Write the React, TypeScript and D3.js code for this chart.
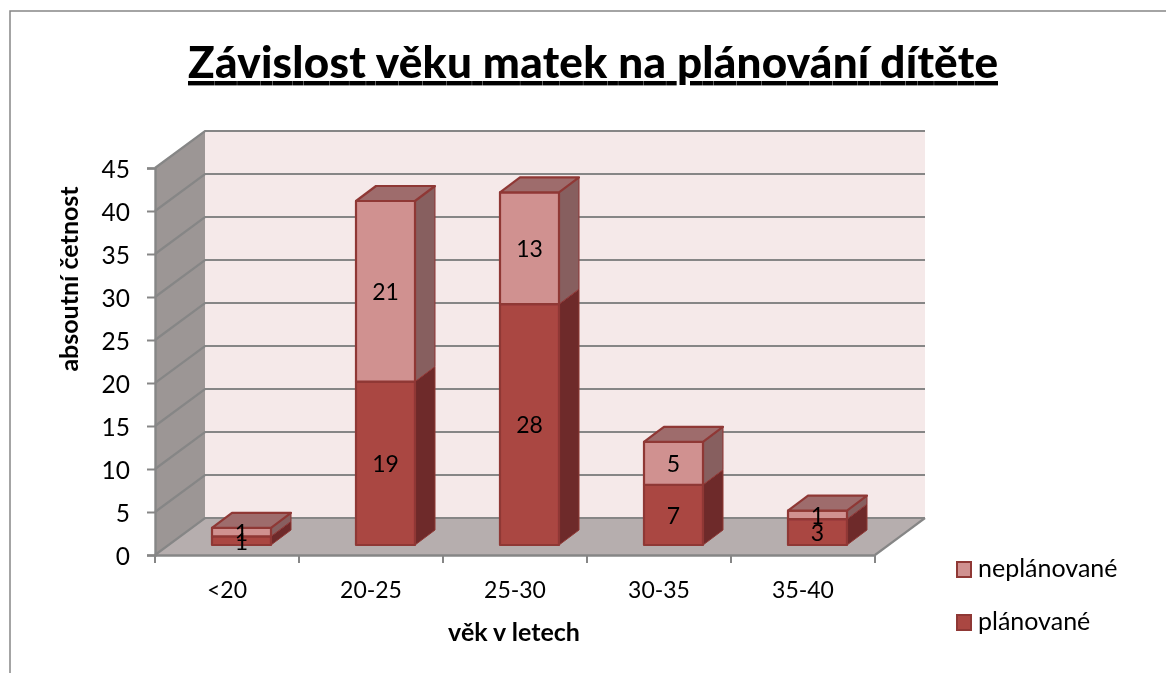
import React, { useRef, useEffect } from "react";
import * as d3 from "d3";

const categories = ["<20", "20-25", "25-30", "30-35", "35-40"];
const planned = [1, 19, 28, 7, 3];
const unplanned = [1, 21, 13, 5, 1];
const yTicks = [0, 5, 10, 15, 20, 25, 30, 35, 40, 45];
const seriesNames = ["plánované", "neplánované"];

const FONT = "Lato, 'Open Sans', sans-serif";

export default function App() {
  const ref = useRef<SVGSVGElement | null>(null);

  useEffect(() => {
    const svg = d3.select(ref.current);
    svg.selectAll("*").remove();

    const x = d3.scaleBand().domain(categories).range([155, 875]).paddingInner(0).paddingOuter(0);
    const y = d3.scaleLinear().domain([0, 45]).range([555, 168]);

    // hloubka grafu
    const wallDx = 50;
    const wallDy = -37;
    const barDx = 14.5;
    const barDy = -10;
    const depthX = 20;
    const depthY = -15;
    const barW = 59;

    const defs = svg.append("defs");
    defs.append("filter").attr("id", "soft").append("feGaussianBlur").attr("stdDeviation", 0.45);

    // okraj
    svg.append("rect").attr("x", 10).attr("y", 11).attr("width", 1300).attr("height", 800)
      .attr("fill", "#fff").attr("stroke", "#868686").attr("stroke-width", 1.5);

    const root = svg.append("g").attr("filter", "url(#soft)");

    const pts = (p: number[][]) => p.map((d) => d.join(",")).join(" ");
    const xl = x.range()[0];
    const xr = x.range()[1];
    const y0 = y(0);
    const yTop = y(45);

    // stěny
    root.append("polygon")
      .attr("points", pts([[xl + wallDx, yTop + wallDy], [xr + wallDx + 0, yTop + wallDy], [xr + wallDx, y0 + wallDy], [xl + wallDx, y0 + wallDy]]))
      .attr("fill", "#f5e9e9");
    root.append("polygon")
      .attr("points", pts([[xl, yTop], [xl + wallDx, yTop + wallDy], [xl + wallDx, y0 + wallDy], [xl, y0]]))
      .attr("fill", "#9c9695");
    root.append("polygon")
      .attr("points", pts([[xl, y0], [xl + wallDx, y0 + wallDy], [xr + wallDx, y0 + wallDy], [xr, y0]]))
      .attr("fill", "#b6aeae");

    // mřížka
    const grid = root.append("g").attr("fill", "none").attr("stroke", "#868686").attr("stroke-width", 2.2);
    yTicks.forEach((t) => {
      grid.append("polyline")
        .attr("points", pts([[xl, y(t)], [xl + wallDx, y(t) + wallDy], [xr + wallDx, y(t) + wallDy]]));
    });
    grid.append("polyline").attr("points", pts([[xr, y0], [xr + wallDx, y0 + wallDy]]));

    // osy
    const yAxis = root.append("g").attr("transform", `translate(${xl},0)`)
      .call(d3.axisLeft(y).tickValues(yTicks).tickSize(8).tickPadding(17));
    yAxis.selectAll("path").attr("stroke", "#868686").attr("stroke-width", 2.4);
    yAxis.selectAll("line").attr("stroke", "#868686").attr("stroke-width", 2);
    yAxis.selectAll("text").attr("font-family", FONT).attr("font-size", 24.5).attr("fill", "#000")
      .attr("dy", "0.38em");

    const xAxis = root.append("g").attr("transform", `translate(0,${y0})`)
      .call(d3.axisBottom(x).tickSize(0).tickPadding(27));
    xAxis.select("path").attr("stroke", "#868686").attr("stroke-width", 2.4);
    xAxis.selectAll("text").attr("font-family", FONT).attr("font-size", 23).attr("fill", "#000");
    const edges = [...categories.map((c) => x(c) as number), xr];
    root.append("g").selectAll("line").data(edges).enter().append("line")
      .attr("x1", (d) => d).attr("x2", (d) => d).attr("y1", y0).attr("y2", y0 + 8)
      .attr("stroke", "#868686").attr("stroke-width", 2);

    // sloupce
    const series = [
      { name: "planned", values: planned, front: "#aa4643", side: "#6e2b2a", top: "#8a3a38" },
      { name: "unplanned", values: unplanned, front: "#d09190", side: "#875f5f", top: "#9e6c6c" },
    ];
    const stack = d3.stack<number>()
      .keys(["0", "1"])
      .value((i, k) => series[+k].values[i])(d3.range(categories.length));

    const bars = root.append("g").attr("stroke", "#8f3735").attr("stroke-width", 2.2).attr("stroke-linejoin", "round");
    const labels: { x: number; y: number; v: number }[] = [];
    categories.forEach((c, i) => {
      const left = (x(c) as number) + (x.bandwidth() - barW) / 2 + barDx;
      stack.forEach((layer, s) => {
        const [a, b] = layer[i];
        const yb = y(a) + barDy;
        const yt = y(b) + barDy;
        bars.append("polygon")
          .attr("points", pts([[left + barW, yb], [left + barW + depthX, yb + depthY], [left + barW + depthX, yt + depthY], [left + barW, yt]]))
          .attr("fill", series[s].side).attr("stroke-width", 1);
        bars.append("rect").attr("x", left).attr("y", yt).attr("width", barW).attr("height", yb - yt)
          .attr("fill", series[s].front);
        if (s === stack.length - 1) {
          bars.append("polygon")
            .attr("points", pts([[left, yt], [left + depthX, yt + depthY], [left + barW + depthX, yt + depthY], [left + barW, yt]]))
            .attr("fill", series[s].top);
        }
        labels.push({ x: left + barW / 2, y: (yb + yt) / 2, v: series[s].values[i] });
      });
    });

    root.append("g").selectAll("text").data(labels).enter().append("text")
      .attr("x", (d) => d.x).attr("y", (d) => d.y + 3)
      .attr("text-anchor", "middle").attr("dominant-baseline", "middle")
      .attr("font-family", FONT).attr("font-size", 23).attr("fill", "#000")
      .text((d) => d.v);

    // legenda
    const legend = root.append("g");
    [1, 0].forEach((s, i) => {
      const g = legend.append("g").attr("transform", `translate(956,${561 + i * 53})`);
      g.append("rect").attr("x", 1).attr("y", 1).attr("width", 14).attr("height", 15)
        .attr("fill", series[s].front).attr("stroke", "#8f3735").attr("stroke-width", 2);
      g.append("text").attr("x", 22).attr("y", 16)
        .attr("font-family", FONT).attr("font-size", 25).attr("fill", "#000")
        .text(seriesNames[s]);
    });

    // popisky
    root.append("text").attr("x", 593).attr("y", 78).attr("text-anchor", "middle")
      .attr("font-family", FONT).attr("font-weight", 900).attr("font-size", 44)
      .attr("textLength", 810).attr("lengthAdjust", "spacing")
      .attr("text-decoration", "underline").attr("fill", "#000")
      .text("Závislost věku matek na plánování dítěte");
    root.append("text").attr("transform", "translate(78,279) rotate(-90)").attr("text-anchor", "middle")
      .attr("font-family", FONT).attr("font-weight", 700).attr("font-size", 25).attr("fill", "#000")
      .text("absoutní četnost");
    root.append("text").attr("x", 514).attr("y", 641).attr("text-anchor", "middle")
      .attr("font-family", FONT).attr("font-weight", 700).attr("font-size", 25).attr("fill", "#000")
      .text("věk v letech");
  }, []);

  return <svg ref={ref} width={1166} height={673} style={{ position: "absolute", left: 0, top: 0 }} />;
}
